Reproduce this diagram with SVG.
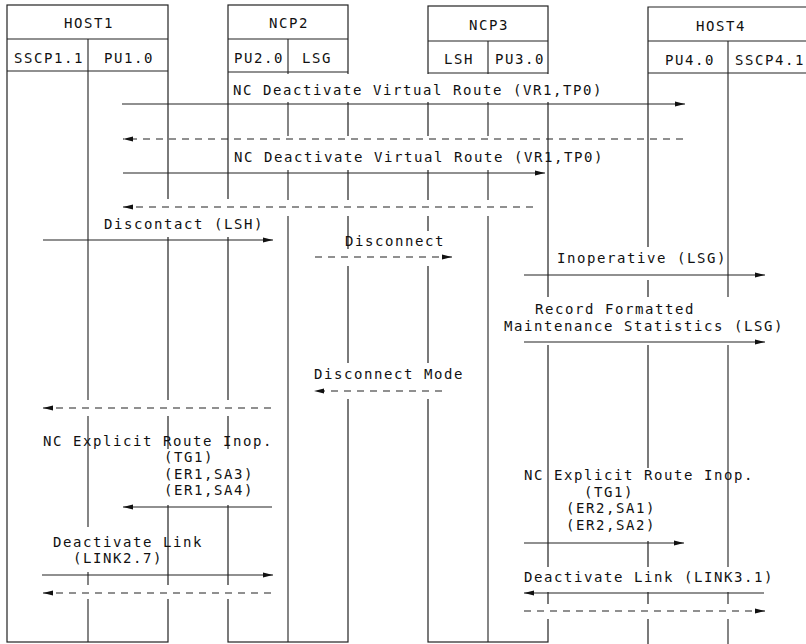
<svg xmlns="http://www.w3.org/2000/svg" width="806" height="644" viewBox="0 0 806 644">
<style>
.box{fill:none;stroke:#222;stroke-width:1.2}
.ln{stroke:#222;stroke-width:1.1;fill:none}
.msg{stroke:#222;stroke-width:1.1;fill:none;marker-end:url(#ah)}
.dash{stroke-dasharray:7 6}
.bg{fill:#fff;stroke:none}
text{font-family:"DejaVu Sans Mono","Liberation Mono",monospace;font-size:14px;letter-spacing:1.57px;fill:#111}
.c{text-anchor:middle}
</style>
<defs>
<marker id="ah" markerUnits="userSpaceOnUse" markerWidth="10" markerHeight="6" refX="10" refY="3" orient="auto">
<path d="M0,0.5 L10,3 L0,5.5 z" fill="#111"/>
</marker>
</defs>
<rect width="806" height="644" fill="#fff"/>

<g id="HOST1">
<rect class="box" x="7" y="5" width="161" height="637"/>
<path class="ln" d="M7,39 H168 M7,71 H168 M88,39 V642"/>
<text class="c" x="89" y="28">HOST1</text>
<text class="c" x="49" y="63">SSCP1.1</text>
<text class="c" x="129" y="63">PU1.0</text>
</g>

<g id="NCP2">
<rect class="box" x="228" y="5" width="120" height="637"/>
<path class="ln" d="M228,39 H348 M228,72 H348 M288,39 V642"/>
<text class="c" x="289" y="28">NCP2</text>
<text class="c" x="259" y="63">PU2.0</text>
<text class="c" x="317" y="63">LSG</text>
</g>

<g id="NCP3">
<rect class="box" x="428" y="6" width="120" height="636"/>
<path class="ln" d="M428,41 H548 M428,73 H548 M488,41 V642"/>
<text class="c" x="489" y="30">NCP3</text>
<text class="c" x="459" y="64">LSH</text>
<text class="c" x="520" y="64">PU3.0</text>
</g>

<g id="HOST4">
<path class="box" d="M648,644 V7 H812"/>
<path class="ln" d="M648,41 H812 M648,73 H812 M728,41 V644"/>
<text class="c" x="721" y="31">HOST4</text>
<text class="c" x="690" y="65">PU4.0</text>
<text x="735" y="65">SSCP4.1</text>
</g>

<g id="label-backgrounds">
<rect class="bg" x="231" y="74" width="376" height="28"/>
<rect class="bg" x="231" y="136" width="314" height="34"/>
<rect class="bg" x="120" y="200" width="420" height="16"/>
<rect class="bg" x="100" y="199" width="166" height="38"/>
<rect class="bg" x="352" y="231" width="98" height="18"/>
<rect class="bg" x="340" y="249" width="112" height="17"/>
<rect class="bg" x="553" y="247" width="170" height="33"/>
<rect class="bg" x="502" y="297" width="283" height="48"/>
<rect class="bg" x="310" y="363" width="137" height="36"/>
<rect class="bg" x="40" y="400" width="235" height="16"/>
<rect class="bg" x="160" y="449" width="96" height="56"/>
<rect class="bg" x="560" y="468" width="102" height="73"/>
<rect class="bg" x="50" y="527" width="113" height="45"/>
<rect class="bg" x="40" y="585" width="235" height="14"/>
<rect class="bg" x="520" y="567" width="255" height="25"/>
<rect class="bg" x="520" y="604" width="250" height="15"/>
</g>

<g id="connectors">
<line class="msg" x1="122" y1="104" x2="685" y2="104"/>
<line class="msg dash" x1="683" y1="139" x2="123" y2="139"/>
<line class="msg" x1="123" y1="173" x2="545" y2="173"/>
<line class="msg dash" x1="533" y1="207" x2="123" y2="207"/>
<line class="msg" x1="43" y1="240" x2="273" y2="240"/>
<line class="msg dash" x1="315" y1="257" x2="452" y2="257"/>
<line class="msg" x1="524" y1="275" x2="765" y2="275"/>
<line class="msg" x1="524" y1="342" x2="765" y2="342"/>
<line class="msg dash" x1="442" y1="391" x2="314" y2="391"/>
<line class="msg dash" x1="271" y1="408" x2="43" y2="408"/>
<line class="msg" x1="272" y1="507" x2="123" y2="507"/>
<line class="msg" x1="524" y1="543" x2="684" y2="543"/>
<line class="msg" x1="42" y1="575" x2="273" y2="575"/>
<line class="msg dash" x1="271" y1="593" x2="43" y2="593"/>
<line class="msg" x1="764" y1="593" x2="524" y2="593"/>
<line class="msg dash" x1="524" y1="611" x2="765" y2="611"/>
</g>

<g id="labels">
<text x="233" y="95">NC Deactivate Virtual Route (VR1,TP0)</text>
<text x="234" y="162">NC Deactivate Virtual Route (VR1,TP0)</text>
<text x="104" y="229">Discontact (LSH)</text>
<text x="345" y="246">Disconnect</text>
<text x="557" y="263">Inoperative (LSG)</text>
<text x="535" y="314">Record Formatted</text>
<text x="504" y="331">Maintenance Statistics (LSG)</text>
<text x="314" y="379">Disconnect Mode</text>
<text x="43" y="445.5">NC Explicit Route Inop.</text>
<text x="164" y="462">(TG1)</text>
<text x="164" y="478.5">(ER1,SA3)</text>
<text x="164" y="495">(ER1,SA4)</text>
<text x="53" y="546.5">Deactivate Link</text>
<text x="73" y="563">(LINK2.7)</text>
<text x="524" y="480">NC Explicit Route Inop.</text>
<text x="584" y="496.5">(TG1)</text>
<text x="566" y="513">(ER2,SA1)</text>
<text x="566" y="529.5">(ER2,SA2)</text>
<text x="524" y="582">Deactivate Link (LINK3.1)</text>
</g>
</svg>
